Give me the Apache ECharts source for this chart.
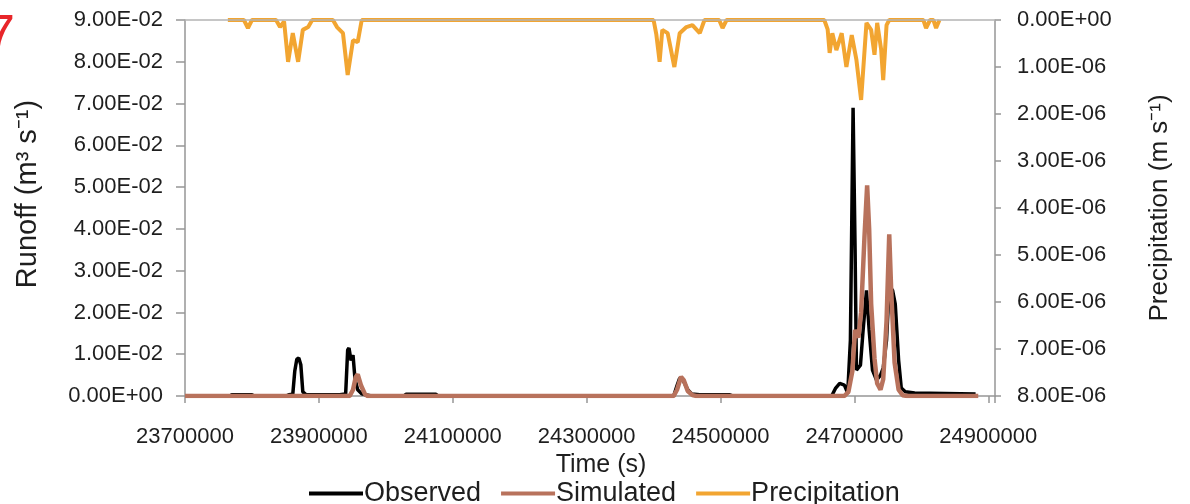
<!DOCTYPE html>
<html>
<head>
<meta charset="utf-8">
<title>Runoff and precipitation</title>
<script src="https://cdn.jsdelivr.net/npm/echarts@6/dist/echarts.min.js"></script>
<style>
  html, body { margin: 0; padding: 0; background: #fff; }
  #chart { width: 1190px; height: 504px; }
</style>
</head>
<body>
<div id="chart"></div>
<script>
// Observed runoff (m3 s-1) against time (s)
const obsTime = [23701000, 23767000, 23770000, 23800000, 23803000, 23851000, 23855000, 23861000, 23864000, 23867000,
  23870000, 23873000, 23876000, 23881000, 23931000, 23940000, 23943000, 23945000, 23948000, 23951000,
  23954000, 23958000, 23964000, 23973000, 23979000, 24027000, 24030000, 24075000, 24078000, 24430000,
  24435000, 24439000, 24445000, 24451000, 24457000, 24469000, 24513000, 24518000, 24666000, 24672000,
  24678000, 24685000, 24690000, 24694000, 24698000, 24701000, 24703000, 24709000, 24713000, 24718000,
  24722000, 24727000, 24733000, 24739000, 24743000, 24748000, 24752000, 24757000, 24761000, 24766000,
  24770000, 24776000, 24790000, 24881000];
const obsValue = [0, 0, 0.0003, 0.0003, 0, 0, 0.0003, 0.0004, 0.006, 0.0088,
  0.0091, 0.0075, 0.001, 0.0003, 0.0003, 0.0005, 0.011, 0.0115, 0.0085, 0.0098,
  0.004, 0.0015, 0.0005, 0.0002, 0, 0, 0.0004, 0.0004, 0, 0,
  0.0025, 0.0043, 0.0035, 0.0015, 0.0005, 0.0003, 0.0003, 0, 0, 0.0019,
  0.003, 0.0026, 0.0007, 0.0134, 0.069, 0.035, 0.0062, 0.0074, 0.0158, 0.0253,
  0.0158, 0.0062, 0.0038, 0.005, 0.0067, 0.0134, 0.0263, 0.0253, 0.022, 0.0086,
  0.0019, 0.001, 0.0007, 0.0005];

// Simulated runoff (m3 s-1)
const simTime = [23700000, 23946000, 23951000, 23955000, 23958000, 23963000, 23969000, 23973000, 24430000, 24435000,
  24441000, 24445000, 24451000, 24458000, 24464000, 24685000, 24691000, 24697000, 24701000, 24706000,
  24710000, 24715000, 24719000, 24722000, 24725000, 24730000, 24734000, 24739000, 24743000, 24748000,
  24752000, 24755000, 24760000, 24766000, 24772000, 24779000, 24885000];
const simValue = [0, 0, 0.0015, 0.0045, 0.0052, 0.0025, 0.0004, 0, 0, 0.0015,
  0.0046, 0.0038, 0.0012, 0.0002, 0, 0, 0.001, 0.006, 0.0158, 0.014,
  0.02, 0.038, 0.0504, 0.04, 0.022, 0.009, 0.003, 0.0015, 0.004, 0.018,
  0.0387, 0.025, 0.008, 0.0015, 0.0002, 0, 0];

// Precipitation (m s-1), plotted on the reversed right axis
const precipTime = [23764000, 23788000, 23794000, 23800000, 23836000, 23842000, 23848000, 23854000, 23861000, 23869000,
  23876000, 23884000, 23890000, 23921000, 23927000, 23936000, 23943000, 23951000, 23958000, 23964000,
  24400000, 24404000, 24409000, 24413000, 24421000, 24431000, 24439000, 24449000, 24458000, 24469000,
  24476000, 24498000, 24503000, 24509000, 24655000, 24660000, 24663000, 24667000, 24673000, 24681000,
  24688000, 24696000, 24703000, 24710000, 24718000, 24725000, 24730000, 24734000, 24740000, 24743000,
  24748000, 24752000, 24803000, 24807000, 24813000, 24818000, 24822000, 24827000];
const precipValue = [0, 0, 1.7e-7, 0, 0, 1.5e-7, 3e-8, 8.9e-7, 2.8e-7, 8.9e-7,
  2.1e-7, 1.5e-7, 0, 0, 1.5e-7, 2.8e-7, 1.17e-6, 4.3e-7, 4.7e-7, 0,
  0, 3e-7, 8.9e-7, 2.1e-7, 2.8e-7, 1.0e-6, 2.8e-7, 1.5e-7, 1.1e-7, 2.8e-7,
  0, 0, 1.7e-7, 0, 0, 2e-7, 7.0e-7, 2.8e-7, 6.4e-7, 2.8e-7,
  1.0e-6, 3.2e-7, 8.5e-7, 1.7e-6, 6e-8, 2.1e-7, 7.4e-7, 6e-8, 6.4e-7, 1.28e-6,
  1.1e-7, 0, 0, 1.7e-7, 0, 0, 1.7e-7, 0];

// Axis settings
const timeMin = 23700000, timeMax = 24910000, timeStep = 200000;
const runoffMax = 0.09, runoffStep = 0.01;
const precipMax = 8e-6, precipStep = 1e-6;

const seriesNames = ['Observed', 'Simulated', 'Precipitation'];
const seriesColors = ['#000000', '#B8725C', '#F2A531'];

const font = "'Liberation Sans', Arial, sans-serif";
const textColor = '#1e1e1e';
const axisGray = '#969696';

function pairs(xs, ys) { return xs.map((x, i) => [x, ys[i]]); }

// Excel-style scientific notation: 9.00E-02
function sci(v) {
  const s = Number(v).toExponential(2);
  const parts = s.split('e');
  const e = parseInt(parts[1], 10);
  return parts[0] + 'E' + (e < 0 ? '-' : '+') + String(Math.abs(e)).padStart(2, '0');
}

const chart = echarts.init(document.getElementById('chart'), null, { renderer: 'canvas' });

const labelStyle = { color: textColor, fontFamily: font, fontSize: 22 };

chart.setOption({
  animation: false,
  backgroundColor: '#fff',
  textStyle: { fontFamily: font },
  grid: { left: 185, right: 195, top: 20, bottom: 108, containLabel: false },
  legend: {
    data: seriesNames,
    left: 304,
    top: 475,
    icon: 'rect',
    itemWidth: 54,
    itemHeight: 4,
    itemGap: 20,
    textStyle: { color: textColor, fontFamily: font, fontSize: 27, padding: [0, 0, 0, -4] }
  },
  xAxis: [{
    type: 'value',
    min: timeMin, max: timeMax, interval: timeStep,
    name: 'Time (s)',
    nameLocation: 'middle',
    nameGap: 55,
    nameTextStyle: { color: textColor, fontFamily: font, fontSize: 25, padding: [0, 0, 0, 22] },
    axisLine: { show: true, lineStyle: { color: axisGray, width: 1.5 } },
    axisTick: { show: true, length: 7, lineStyle: { color: axisGray, width: 1.5 } },
    axisLabel: Object.assign({}, labelStyle, {
      margin: 30,
      formatter: v => (Math.round(v - timeMin) % timeStep === 0 ? String(v) : '')
    }),
    splitLine: { show: false }
  }, {
    // plain frame line along the top edge of the plot
    type: 'value',
    position: 'top',
    min: timeMin, max: timeMax,
    z: 10,
    axisLine: { show: true, lineStyle: { color: '#b4b4b4', width: 1.5 } },
    axisTick: { show: false },
    axisLabel: { show: false },
    splitLine: { show: false }
  }],
  yAxis: [{
    type: 'value',
    min: 0, max: runoffMax, interval: runoffStep,
    name: 'Runoff (m³ s⁻¹)',
    nameLocation: 'middle',
    nameRotate: 90,
    nameGap: 143,
    nameTextStyle: { color: textColor, fontFamily: font, fontSize: 29, padding: [0, 0, 0, 28] },
    axisLine: { show: true, lineStyle: { color: axisGray, width: 1.5 } },
    axisTick: { show: true, length: 9, lineStyle: { color: axisGray, width: 1.5 } },
    axisLabel: Object.assign({}, labelStyle, { margin: 22, formatter: sci }),
    splitLine: { show: false }
  }, {
    type: 'value',
    position: 'right',
    inverse: true,
    min: 0, max: precipMax, interval: precipStep,
    name: 'Precipitation (m s⁻¹)',
    nameLocation: 'middle',
    nameRotate: 90,
    nameGap: 152,
    nameTextStyle: { color: textColor, fontFamily: font, fontSize: 26 },
    axisLine: { show: true, lineStyle: { color: axisGray, width: 1.5 } },
    axisTick: { show: true, length: 6, lineStyle: { color: axisGray, width: 1.5 } },
    axisLabel: Object.assign({}, labelStyle, { margin: 22, formatter: sci }),
    splitLine: { show: false }
  }],
  series: [{
    name: seriesNames[0],
    type: 'line',
    xAxisIndex: 0, yAxisIndex: 0,
    data: pairs(obsTime, obsValue),
    showSymbol: false,
    lineStyle: { color: seriesColors[0], width: 3.5 },
    itemStyle: { color: seriesColors[0] },
    z: 3
  }, {
    name: seriesNames[1],
    type: 'line',
    xAxisIndex: 0, yAxisIndex: 0,
    data: pairs(simTime, simValue),
    showSymbol: false,
    lineStyle: { color: seriesColors[1], width: 4.5 },
    itemStyle: { color: seriesColors[1] },
    z: 4
  }, {
    name: seriesNames[2],
    type: 'line',
    xAxisIndex: 0, yAxisIndex: 1,
    data: pairs(precipTime, precipValue),
    showSymbol: false,
    clip: true,
    lineStyle: { color: seriesColors[2], width: 4 },
    itemStyle: { color: seriesColors[2] },
    z: 2
  }],
  graphic: [{
    type: 'text',
    left: -15,
    top: 10,
    style: { text: '7', fill: '#e8262a', fontSize: 54, fontWeight: 'normal', fontFamily: font }
  }]
});
</script>
</body>
</html>
